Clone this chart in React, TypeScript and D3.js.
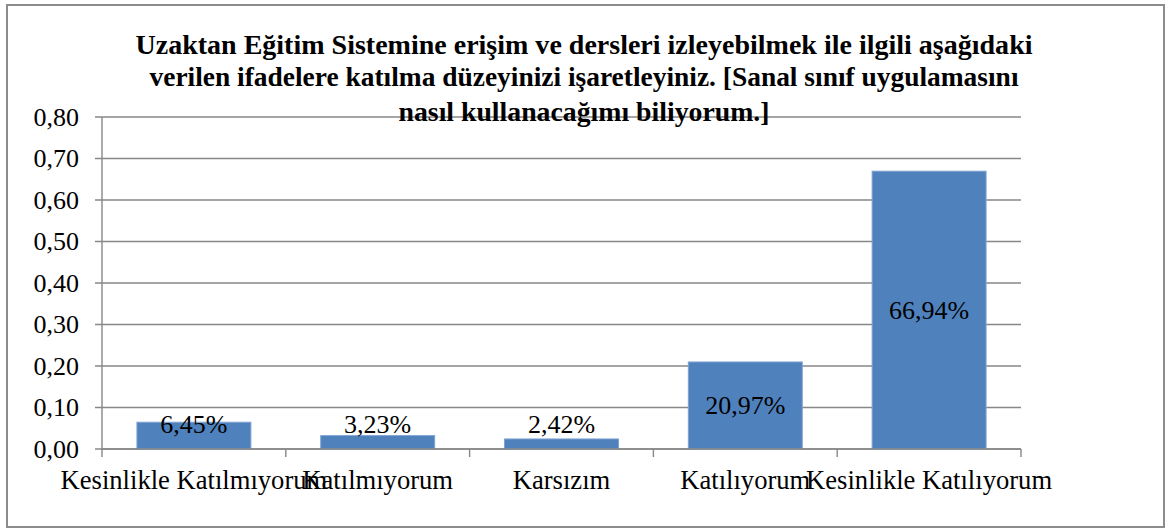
import React from 'react';
import { scaleBand, scaleLinear, range } from 'd3';

const categories = [
  'Kesinlikle Katılmıyorum',
  'Katılmıyorum',
  'Karsızım',
  'Katılıyorum',
  'Kesinlikle Katılıyorum',
];
const values = [0.0645, 0.0323, 0.0242, 0.2097, 0.6694];
const valueLabels = ['6,45%', '3,23%', '2,42%', '20,97%', '66,94%'];
const yTicks = [0, 0.1, 0.2, 0.3, 0.4, 0.5, 0.6, 0.7, 0.8];
const titleLines = [
  'Uzaktan Eğitim Sistemine erişim ve dersleri izleyebilmek ile ilgili aşağıdaki',
  'verilen ifadelere katılma düzeyinizi işaretleyiniz. [Sanal sınıf uygulamasını',
  'nasıl kullanacağımı biliyorum.]',
];
const titleWidths = [897, 869, 371];
const titleBaselines = [54, 86, 121];

const W = 1171;
const H = 529;
const plot = { left: 102, right: 1021, top: 117, bottom: 449 };
const font = '"Liberation Serif", "Times New Roman", serif';
const gridColor = '#878787';

function App() {
  const slot = scaleBand<string>().domain(categories).range([plot.left, plot.right]);
  const x = scaleBand<string>()
    .domain(categories)
    .range([plot.left, plot.right])
    .paddingInner(0.38)
    .paddingOuter(0.19);
  const y = scaleLinear().domain([0, 0.8]).range([plot.bottom, plot.top]);
  const fmt = (v: number) => v.toFixed(2).replace('.', ',');
  const edges = range(categories.length + 1).map(i => plot.left + i * slot.step());

  return (
    <svg width={W} height={H} style={{ position: 'absolute', left: 0, top: 0, background: '#fff' }}>
      <rect x={7} y={5} width={1157} height={522} fill="#fff" stroke="#8c8c8c" strokeWidth={2} />

      {/* gridlines + y labels */}
      {yTicks.map(t => (
        <g key={t}>
          <line x1={plot.left - 7} x2={plot.right} y1={y(t)} y2={y(t)} stroke={gridColor} strokeWidth={1.4} />
          <text x={79} y={y(t)} dy="0.34em" textAnchor="end" fontFamily={font} fontSize={26} fill="#000">
            {fmt(t)}
          </text>
        </g>
      ))}

      {/* bars */}
      {categories.map((c, i) => (
        <rect
          key={c}
          x={x(c)!}
          y={y(values[i])}
          width={x.bandwidth()}
          height={plot.bottom - y(values[i])}
          fill="#4F81BD"
          stroke="#7FA3D2"
          strokeWidth={1}
        />
      ))}

      {/* axes */}
      <line x1={plot.left} x2={plot.left} y1={plot.top} y2={plot.bottom} stroke={gridColor} strokeWidth={1.4} />
      <line x1={plot.left} x2={plot.right} y1={plot.bottom} y2={plot.bottom} stroke={gridColor} strokeWidth={1.4} />
      {edges.map(e => (
        <line key={e} x1={e} x2={e} y1={plot.bottom} y2={plot.bottom + 8} stroke={gridColor} strokeWidth={1.4} />
      ))}

      {/* value labels */}
      {categories.map((c, i) => {
        const mid = (y(values[i]) + plot.bottom) / 2;
        const cy = Math.min(mid, plot.bottom - 25);
        return (
          <text
            key={c}
            x={slot(c)! + slot.bandwidth() / 2}
            y={cy}
            dy="0.34em"
            textAnchor="middle"
            fontFamily={font}
            fontSize={26}
            fill="#000"
          >
            {valueLabels[i]}
          </text>
        );
      })}

      {/* category labels */}
      {categories.map(c => (
        <text
          key={c}
          x={slot(c)! + slot.bandwidth() / 2}
          y={489}
          textAnchor="middle"
          fontFamily={font}
          fontSize={26.6}
          fill="#000"
        >
          {c}
        </text>
      ))}

      {/* title */}
      {titleLines.map((l, i) => (
        <text
          key={i}
          x={584}
          y={titleBaselines[i]}
          textAnchor="middle"
          fontFamily={font}
          fontWeight="bold"
          fontSize={27}
          textLength={titleWidths[i]}
          lengthAdjust="spacingAndGlyphs"
          fill="#000"
        >
          {l}
        </text>
      ))}
    </svg>
  );
}

export default App;
